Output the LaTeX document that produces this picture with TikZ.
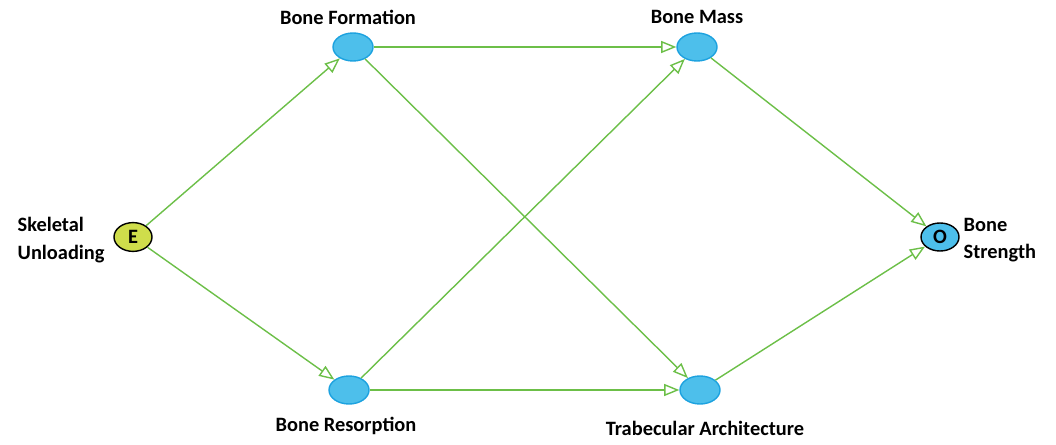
\documentclass[tikz,border=0pt]{standalone}
\usepackage{fontspec}
\setmainfont{Carlito}
\usetikzlibrary{arrows.meta,positioning,shapes.geometric}
\definecolor{dagblue}{HTML}{4DBFEB}
\definecolor{dagrim}{HTML}{1DA2DF}
\definecolor{daglime}{HTML}{CFDD4B}
\definecolor{daggreen}{HTML}{6CBF48}
\tikzset{
  >={Triangle[open,length=3.8mm,width=3mm]},
  % noder
  var/.style={ellipse,draw=dagrim,fill=dagblue,line width=1pt,inner sep=0pt,
              minimum width=1cm,minimum height=0.7cm},
  expo/.style={ellipse,draw=black,fill=daglime,line width=1pt,inner sep=0pt,
               minimum width=0.95cm,minimum height=0.72cm},
  outc/.style={ellipse,draw=black,fill=dagblue,line width=1pt,inner sep=0pt,
               minimum width=0.95cm,minimum height=0.7cm},
  lbl/.style={inner sep=1pt,align=left},
  % kanter
  arc/.style={->,draw=daggreen,line width=1pt},
}

\begin{document}
\begin{tikzpicture}[x=0.025cm,y=-0.025cm,
  every node/.append style={font=\fontsize{14.5}{19.5}\selectfont\bfseries}]
  \useasboundingbox (0,0) rectangle (1056,445);
  \node[expo] (e)  at (133,237) {E};
  \node[var]  (bf) at (353,47)  {};
  \node[var]  (bm) at (697,47)  {};
  \node[var]  (br) at (349,390) {};
  \node[var]  (ta) at (700,390) {};
  \node[outc] (o)  at (940,237) {O};
  \node[lbl,anchor=west] (sk) at (16,240) {Skeletal\\Unloading};
  \node[lbl] (bfl) at (348,17)  {Bone Formation};
  \node[lbl] (bml) at (697,17)  {Bone Mass};
  \node[lbl] (brl) at (346,426) {Bone Resorption};
  \node[lbl] (tal) at (705,428) {Trabecular Architecture};
  \node[lbl,anchor=west] (bs) at (962,240) {Bone\\Strength};
  \foreach \a/\b in {e/bf,e/br,bf/bm,bf/ta,br/bm,br/ta,bm/o,ta/o}
    \draw[arc] (\a) -- (\b);
\end{tikzpicture}
\end{document}
